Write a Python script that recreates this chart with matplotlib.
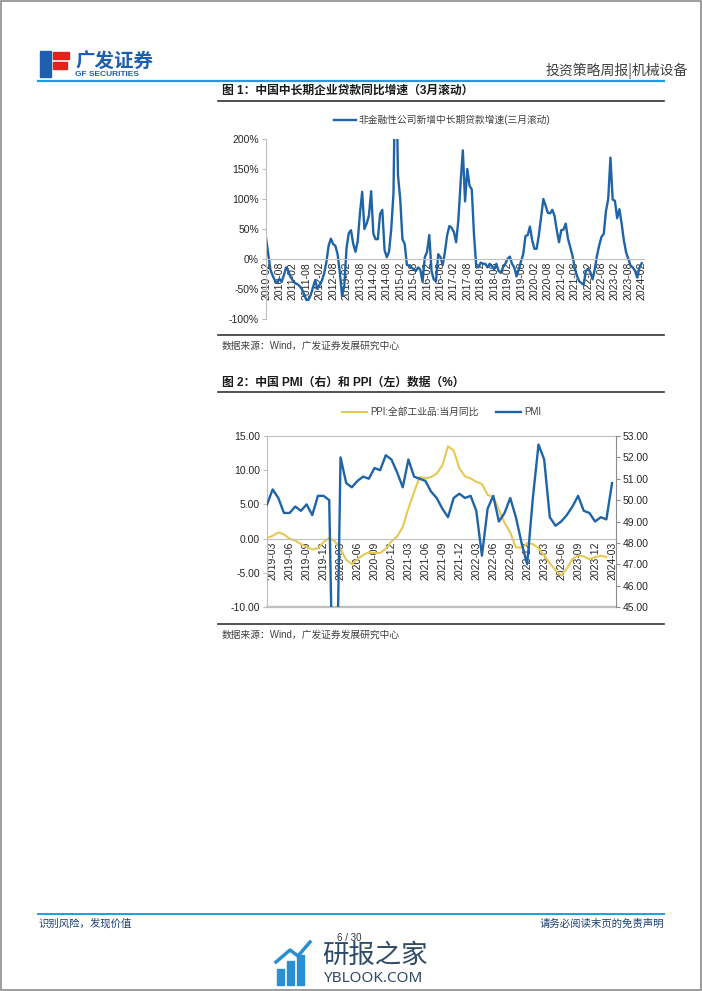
import numpy as np
import pandas as pd
import matplotlib
matplotlib.use("Agg")
import matplotlib.pyplot as plt
from matplotlib.lines import Line2D
from matplotlib.patches import Rectangle
from matplotlib.ticker import MultipleLocator, FuncFormatter

plt.rcParams['font.family'] = ['Liberation Sans', 'Noto Sans CJK SC']
plt.rcParams['axes.unicode_minus'] = False

W, H = 702, 991
BLUE = '#1f64a6'
YELLOW = '#e6c954'
GRID = '#bfbfbf'

# 图1: 非金融性公司新增中长期贷款增速(三月滚动), %, 2010-02 .. 2024-02
loan_months = pd.date_range('2010-02-01', '2024-02-01', freq='MS')
loan_growth = [
    36, 8, -18, -28, -36, -40, -33, -38, -27, -14, -20, -30,
    -36, -40, -42, -45, -50, -58, -68, -68, -60, -47, -35, -50,
    -43, -36, -24, -5, 22, 34, 25, 22, 8, -22, -62, -45,
    18, 43, 48, 25, 12, 30, 76, 112, 50, 59, 72, 113,
    42, 33, 33, 75, 82, 15, 3, 12, 50, 110, 380, 140,
    100, 33, 25, -10, -11, -14, -17, -20, -14, -18, -38, 3,
    12, 40, -20, -34, -37, 8, 3, -10, 12, 40, 55, 52,
    45, 28, 65, 127, 181, 96, 150, 122, 116, 40, -12, -14,
    -6, -8, -8, -14, -8, -12, -17, -8, -20, -23, -14, -8,
    0, 4, -8, -14, -29, -18, -4, 8, 38, 40, 54, 31,
    17, 17, 40, 70, 100, 89, 77, 76, 82, 72, 48, 28,
    48, 49, 59, 34, 20, 6, -14, -28, -37, -40, -43, -20,
    -16, -22, -34, -17, 6, 23, 37, 42, 80, 100, 169, 99,
    97, 68, 83, 59, 31, 11, 0, -11, -14, -20, -31, -14,
    -7,
]

# 图2: PPI 当月同比 (左, %) 2019-02 .. 2024-02, PMI (右) 2019-02 .. 2024-03
macro_months = pd.date_range('2019-02-01', '2024-03-01', freq='MS')
ppi = [
    0.1, 0.4, 0.9, 0.6, 0.0, -0.3, -0.8, -1.2, -1.6, -1.4, -0.5,
    0.1, -0.4, -1.5, -3.1, -3.7, -3.0, -2.4, -2.0, -2.1, -2.1, -1.5, -0.4,
    0.3, 1.7, 4.4, 6.8, 9.0, 8.8, 9.0, 9.5, 10.7, 13.5, 12.9, 10.3,
    9.1, 8.8, 8.3, 8.0, 6.4, 6.1, 4.2, 2.3, 0.9, -1.3, -1.3, -0.7,
    -0.8, -1.4, -2.5, -3.6, -4.6, -5.4, -4.4, -3.0, -2.5, -2.6, -3.0, -2.7,
    -2.5, -2.7,
]
pmi = [
    49.8, 50.5, 50.1, 49.4, 49.4, 49.7, 49.5, 49.8, 49.3, 50.2, 50.2,
    50.0, 35.7, 52.0, 50.8, 50.6, 50.9, 51.1, 51.0, 51.5, 51.4, 52.1, 51.9,
    51.3, 50.6, 51.9, 51.1, 51.0, 50.9, 50.4, 50.1, 49.6, 49.2, 50.1, 50.3,
    50.1, 50.2, 49.5, 47.4, 49.6, 50.2, 49.0, 49.4, 50.1, 49.2, 48.0, 47.0,
    50.1, 52.6, 51.9, 49.2, 48.8, 49.0, 49.3, 49.7, 50.2, 49.5, 49.4, 49.0,
    49.2, 49.1, 50.8,
]


def fx(x):
    return x / W


def fy(y):
    return 1 - y / H


def hline(fig, x0, x1, y, color, lw):
    fig.add_artist(Line2D([fx(x0), fx(x1)], [fy(y), fy(y)], color=color, lw=lw))


fig = plt.figure(figsize=(W / 100, H / 100), dpi=100)

# page frame
fig.add_artist(Rectangle((0.001, 0.001), 0.998, 0.998, fill=False, ec='#8c8c8c', lw=1.2))

# header
fig.add_artist(Rectangle((fx(40), fy(77)), fx(11), 26 / H, color='#1d5fae'))
fig.add_artist(Rectangle((fx(53), fy(69)), fx(14), 7 / H, color='#e2231a'))
fig.add_artist(Rectangle((fx(53), fy(59)), fx(16), 7 / H, color='#e2231a'))
fig.text(fx(75), fy(62), '广发证券', fontsize=14, fontweight='bold', color='#1d5fae',
         va='center', ha='left', family='Noto Sans CJK SC')
fig.text(fx(75), fy(75), 'GF SECURITIES', fontsize=6, fontweight='bold', color='#1d5fae',
         va='center', ha='left')
fig.text(fx(688), fy(71), '投资策略周报|机械设备', fontsize=10, color='#404040',
         va='center', ha='right', family='Noto Sans CJK SC')
hline(fig, 38, 664, 81, '#1aa0e0', 1.6)

# ---------- chart 1 ----------
fig.text(fx(222), fy(91), '图 1：中国中长期企业贷款同比增速（3月滚动）', fontsize=8.5,
         fontweight='bold', color='#1a1a1a', va='center', ha='left')
hline(fig, 218, 664, 101, '#333333', 1.2)

ax1 = fig.add_axes([fx(266), fy(319), (644 - 266) / W, (319 - 139) / H])
x1 = np.arange(len(loan_growth))
ax1.plot(x1, loan_growth, color=BLUE, lw=1.7,
         label='非金融性公司新增中长期贷款增速(三月滚动)')
ax1.set_xlim(0, 169)
ax1.set_ylim(-100, 200)
ax1.yaxis.set_major_locator(MultipleLocator(50))
ax1.yaxis.set_major_formatter(FuncFormatter(lambda v, p: f'{v:.0f}%'))
for s in ['top', 'right']:
    ax1.spines[s].set_visible(False)
ax1.spines['left'].set_color(GRID)
ax1.spines['bottom'].set_position(('data', 0))
ax1.spines['bottom'].set_color(GRID)
ax1.set_xticks(x1[::6])
ax1.set_xticklabels([d.strftime('%Y-%m') for d in loan_months[::6]])
ax1.tick_params(axis='x', length=0, pad=2, labelrotation=90, labelsize=7.5, labelcolor='#262626')
ax1.tick_params(axis='y', length=3, color=GRID, labelsize=7.5, pad=2, labelcolor='#262626')
leg1 = ax1.legend(loc='center', bbox_to_anchor=(0.466, 1.105), frameon=False,
                  fontsize=7, handlelength=2.2, handletextpad=0.3)
for t in leg1.get_texts():
    t.set_color('#404040')

hline(fig, 218, 664, 335, '#333333', 1.2)
fig.text(fx(222), fy(346), '数据来源：Wind，广发证券发展研究中心', fontsize=7,
         color='#404040', va='center', ha='left')

# ---------- chart 2 ----------
fig.text(fx(222), fy(383), '图 2：中国 PMI（右）和 PPI（左）数据（%）', fontsize=8.5,
         fontweight='bold', color='#1a1a1a', va='center', ha='left')
hline(fig, 218, 664, 392, '#333333', 1.2)

ax2 = fig.add_axes([fx(267), fy(607), (616 - 267) / W, (607 - 436) / H])
l_ppi, = ax2.plot(np.arange(len(ppi)), ppi, color=YELLOW, lw=1.5,
                  label='PPI:全部工业品:当月同比')
ax2.set_xlim(0, 61.7)
ax2.set_ylim(-10, 15)
ax2.yaxis.set_major_locator(MultipleLocator(5))
ax2.yaxis.set_major_formatter(FuncFormatter(lambda v, p: f'{v:.2f}'))
ax2.spines['right'].set_visible(False)
for s in ['top', 'left']:
    ax2.spines[s].set_color(GRID)
ax2.spines['bottom'].set_position(('data', 0))
ax2.spines['bottom'].set_color(GRID)
ax2.axhline(-10, color=GRID, lw=1.6, clip_on=False)
tick_idx = np.arange(1, len(macro_months), 3)
ax2.set_xticks(tick_idx)
ax2.set_xticklabels([macro_months[i].strftime('%Y-%m') for i in tick_idx])
ax2.tick_params(axis='x', length=0, pad=2, labelrotation=90, labelsize=7.5, labelcolor='#262626')
ax2.tick_params(axis='y', length=3, color=GRID, labelsize=7.5, pad=2, labelcolor='#262626')

ax2r = ax2.twinx()
l_pmi, = ax2r.plot(np.arange(len(pmi)), pmi, color=BLUE, lw=1.7, label='PMI')
ax2r.set_ylim(45, 53)
ax2r.yaxis.set_major_locator(MultipleLocator(1))
ax2r.yaxis.set_major_formatter(FuncFormatter(lambda v, p: f'{v:.2f}'))
for s in ['top', 'bottom', 'left']:
    ax2r.spines[s].set_visible(False)
ax2r.spines['right'].set_color('#8c8c8c')
ax2r.tick_params(axis='y', length=3, color='#8c8c8c', labelsize=7.5, pad=2, labelcolor='#262626')

leg2 = ax2.legend(handles=[l_ppi, l_pmi], loc='center', bbox_to_anchor=(0.5, 1.14),
                  ncol=2, frameon=False, fontsize=7, handlelength=2.6,
                  handletextpad=0.3, columnspacing=1.8)
for t in leg2.get_texts():
    t.set_color('#404040')

hline(fig, 218, 664, 624, '#333333', 1.2)
fig.text(fx(222), fy(635), '数据来源：Wind，广发证券发展研究中心', fontsize=7,
         color='#404040', va='center', ha='left')

# ---------- footer ----------
hline(fig, 38, 664, 914, '#1aa0e0', 1.4)
fig.text(fx(38), fy(924), '识别风险，发现价值', fontsize=7.5, color='#1a3f73',
         va='center', ha='left', family='Noto Sans CJK SC')
fig.text(fx(664), fy(924), '请务必阅读末页的免责声明', fontsize=7.5, color='#1a3f73',
         va='center', ha='right', family='Noto Sans CJK SC')
fig.text(fx(349), fy(938), '6 / 30', fontsize=7, color='#333333', va='center', ha='center')

# watermark
for bx, bh in zip([277, 287, 297], [16, 24, 30]):
    fig.add_artist(Rectangle((fx(bx), fy(985)), fx(7), bh / H, color='#2a8fd0'))
fig.add_artist(Line2D([fx(276), fx(290), fx(298), fx(310)],
                      [fy(962), fy(950), fy(956), fy(942)], color='#2a8fd0', lw=2.5))
fig.text(fx(322), fy(955), '研报之家', fontsize=19, color='#2f4a66', va='center', ha='left',
         family='Noto Sans CJK SC')
fig.text(fx(323), fy(978), 'YBLOOK.COM', fontsize=11, color='#2f4a66', va='center', ha='left',
         family='Noto Sans')

fig.savefig('out.png', dpi=100)
